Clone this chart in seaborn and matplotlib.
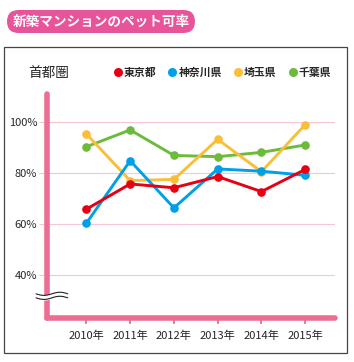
"""
新築マンションのペット可率 (首都圏) - line chart with markers.
"""

import numpy as np
import pandas as pd
import matplotlib.pyplot as plt
import seaborn as sns
from matplotlib.lines import Line2D
from matplotlib.patches import FancyBboxPatch, Rectangle

# === data ===
years = ["2010年", "2011年", "2012年", "2013年", "2014年", "2015年"]
tokyo = [65.8, 75.7, 74.2, 78.6, 72.7, 81.4]
kanagawa = [60.3, 84.8, 66.3, 81.6, 80.7, 79.1]
saitama = [95.3, 77.0, 77.5, 93.2, 80.5, 99.0]
chiba = [90.3, 96.9, 86.9, 86.4, 88.1, 91.0]
prefs = ["東京都", "神奈川県", "埼玉県", "千葉県"]
colors = ["#e60012", "#00a0e9", "#f9be3a", "#6cbb3c"]
yticks = [40, 60, 80, 100]

# draw order: green and yellow first, red on top
series = {"千葉県": chiba, "埼玉県": saitama, "神奈川県": kanagawa, "東京都": tokyo}
df = pd.DataFrame(
    [(p, i, v) for p, vals in series.items() for i, v in enumerate(vals)],
    columns=["pref", "x", "rate"],
)
palette = dict(zip(prefs, colors))

PINK = "#ec6e92"
W, H = 354, 362

sns.set_theme(style="white")
plt.rcParams["font.family"] = ["Noto Sans CJK JP", "DejaVu Sans"]

fig = plt.figure(figsize=(W / 100, H / 100), dpi=100)


def fx(px):
    return px / W


def fy(py):
    return 1 - py / H


# outer frame
fig.patches.append(Rectangle((fx(4), fy(353)), fx(343), 306 / H, transform=fig.transFigure,
                             fill=False, edgecolor="#444444", linewidth=0.9))
# title badge
fig.patches.append(FancyBboxPatch((fx(7), fy(33)), fx(188), 23 / H, transform=fig.transFigure,
                                  boxstyle="round,pad=0,rounding_size=0.033",
                                  facecolor="#e8549a", edgecolor="none", mutation_aspect=W / H))
fig.text(fx(101), fy(21.5), "新築マンションのペット可率", color="white", fontsize=9.8,
         ha="center", va="center", fontweight="bold")
fig.text(fx(28), fy(73), "首都圏", fontsize=9.8, ha="left", va="center")

ax = fig.add_axes([fx(47), fy(318), fx(288), 224 / H])
sns.lineplot(data=df, x="x", y="rate", hue="pref", palette=palette, marker="o",
             markersize=6.2, markeredgewidth=0, linewidth=2.1, ax=ax, legend=False,
             hue_order=list(series.keys()))

ax.set_xlim(-0.9, 5.68)
ax.set_ylim(23.1, 111)
ax.set_xticks(range(len(years)))
ax.set_xticklabels(years, fontsize=8)
ax.set_yticks(yticks)
ax.set_yticklabels([f"{t}%" for t in yticks], fontsize=8)
ax.set_xlabel("")
ax.set_ylabel("")
for t in yticks:
    ax.axhline(t, color="#f7c6d3", linewidth=0.8, zorder=0)

for side in ["top", "right"]:
    ax.spines[side].set_visible(False)
for side in ["left", "bottom"]:
    ax.spines[side].set_color(PINK)
    ax.spines[side].set_linewidth(4)
    ax.spines[side].set_capstyle("round")
ax.tick_params(axis="x", direction="out", length=4, width=1.3, color=PINK, pad=5, bottom=True)
ax.tick_params(axis="y", direction="out", length=6, width=0.8, color="#f7c6d3", pad=1, left=True)

# axis break mark
xs = np.linspace(-0.038, 0.072, 60)
wave = 0.007 * np.sin((xs + 0.038) / 0.11 * 2 * np.pi + np.pi)
upper = 0.108 + wave
lower = 0.090 + wave
ax.fill_between(xs, lower, upper, color="white", transform=ax.transAxes, clip_on=False, zorder=4)
for yy in (upper, lower):
    ax.plot(xs, yy, color="#222222", linewidth=0.8, transform=ax.transAxes, clip_on=False, zorder=5)

# legend
handles = [Line2D([], [], marker="o", linestyle="none", markersize=6.5, markeredgewidth=0,
                  color=c) for c in colors]
fig.legend(handles, prefs, ncol=4, frameon=False, loc="center right",
           bbox_to_anchor=(fx(337), fy(73)), prop={"size": 7.8, "weight": "bold"},
           handletextpad=0.05, columnspacing=1.0, handlelength=1.0, borderpad=0)

fig.savefig("out.png", dpi=100)
